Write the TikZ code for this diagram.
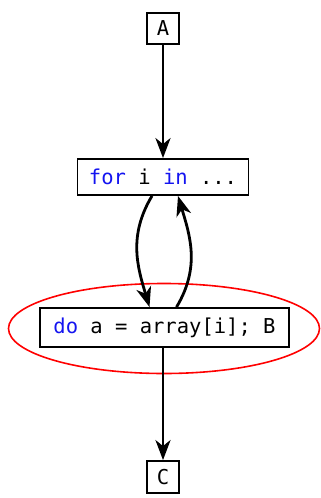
\documentclass[tikz,border=0pt]{standalone}
\usepackage{fontspec}
\setmonofont{DejaVu Sans Mono}
\usetikzlibrary{arrows.meta,shapes.geometric}
\begin{document}
\begin{tikzpicture}[x=1pt,y=-1pt,
  box/.style={draw,line width=1.8pt,font=\ttfamily\fontsize{20.5}{24}\selectfont,inner sep=0pt},
  conn/.style={line width=2.8pt,-{Stealth[length=20pt,width=15pt,inset=6pt]}}]
\useasboundingbox (0,0) rectangle (321,498);
\definecolor{kwblue}{RGB}{20,20,240}
\node[box,minimum width=32pt,minimum height=31pt] (A) at (163,28.5) {A};
\node[box,minimum width=171pt,minimum height=36pt] (F) at (163,177) {\textcolor{kwblue}{for} i \textcolor{kwblue}{in} ...};
\node[box,minimum width=249pt,minimum height=39pt] (B) at (164.5,327.5) {\textcolor{kwblue}{do} a = array[i]; B};
\node[box,minimum width=32pt,minimum height=32pt] (C) at (163,477) {C};
\node[draw=red,line width=1.6pt,ellipse,minimum width=311pt,minimum height=90pt,inner sep=0pt] (E) at (164,328.5) {};
\draw[conn] (A.south) -- (A.south |- F.north);
\draw[conn] ([xshift=-11pt]F.south) .. controls +(-24,40) and +(-12,-40) .. ([xshift=-15pt]B.north);
\draw[conn] ([xshift=12pt]B.north) .. controls +(24,-40) and +(12,40) .. ([xshift=15pt]F.south);
\draw[conn] (C.north |- B.south) -- (C.north);
\end{tikzpicture}
\end{document}
